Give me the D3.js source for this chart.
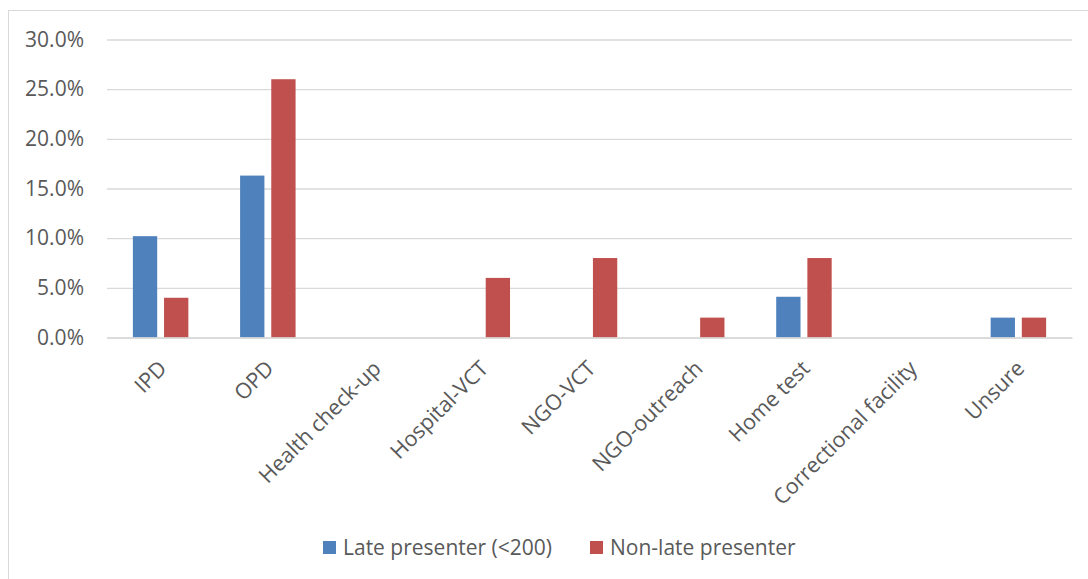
<!DOCTYPE html>
<html>
<head>
<meta charset="utf-8">
<script src="https://cdn.jsdelivr.net/npm/d3@7"></script>
<style>
  html, body { margin: 0; padding: 0; background: #fff; }
  svg { display: block; }
  text { font-family: "Open Sans", "Noto Sans", sans-serif; fill: #595959; }
</style>
</head>
<body>
<svg id="chart" width="1088" height="579"></svg>
<script>
// Where the HIV test was done, by presenter group (share of respondents)
const categories = ["IPD", "OPD", "Health check-up", "Hospital-VCT", "NGO-VCT",
                    "NGO-outreach", "Home test", "Correctional facility", "Unsure"];
const latePresenter    = [10.2, 16.3, 0, 0, 0, 0, 4.1, 0, 2.0];
const nonLatePresenter = [4.0, 26.0, 0, 6.0, 8.0, 2.0, 8.0, 0, 2.0];
const seriesNames  = ["Late presenter (<200)", "Non-late presenter"];
const seriesColors = ["#4f81bd", "#c0504d"];
const yTicks = [0, 5, 10, 15, 20, 25, 30];

const svg = d3.select("#chart");

// outer chart frame
svg.append("rect")
  .attr("x", 8.5).attr("y", 10.5)
  .attr("width", 1090).attr("height", 600)
  .attr("fill", "none").attr("stroke", "#d9d9d9").attr("stroke-width", 1);

const plot = { left: 107, right: 1072, top: 39.5, bottom: 337.5 };

const x = d3.scaleBand().domain(categories).range([plot.left, plot.right]).paddingInner(0).paddingOuter(0);
const inner = d3.scaleBand().domain([0, 1]).range([0, x.bandwidth()]).paddingInner(0.22).paddingOuter(0.83);
const y = d3.scaleLinear().domain([0, 30]).range([plot.bottom, plot.top]);

// horizontal gridlines and y-axis labels
const yAxis = d3.axisLeft(y).tickValues(yTicks)
  .tickSize(-(plot.right - plot.left)).tickPadding(23)
  .tickFormat(d => d.toFixed(1) + "%");
const gy = svg.append("g").attr("transform", `translate(${plot.left},0)`).call(yAxis);
gy.select(".domain").remove();
gy.selectAll(".tick line").attr("stroke", "#d9d9d9").attr("stroke-width", 1.3);
gy.selectAll(".tick text").attr("font-size", 21).attr("fill", "#595959")
  .attr("font-family", "'Open Sans', sans-serif");

// bars
const series = [latePresenter, nonLatePresenter];
series.forEach((vals, si) => {
  svg.append("g").selectAll("rect")
    .data(vals.map((v, i) => ({ c: categories[i], v })).filter(d => d.v > 0))
    .join("rect")
    .attr("x", d => x(d.c) + inner(si))
    .attr("width", inner.bandwidth())
    .attr("y", d => y(d.v))
    .attr("height", d => y(0) - y(d.v))
    .attr("fill", seriesColors[si]);
});

// x-axis baseline and rotated category labels
const xAxis = d3.axisBottom(x).tickSize(0).tickPadding(0);
const gx = svg.append("g").attr("transform", `translate(0,${plot.bottom})`).call(xAxis);
gx.select(".domain").attr("stroke", "#d9d9d9").attr("stroke-width", 1.3);
gx.selectAll(".tick text")
  .attr("font-size", 21.5).attr("fill", "#595959")
  .attr("font-family", "'Open Sans', sans-serif")
  .attr("text-anchor", "end")
  .attr("dy", "0.35em")
  .attr("transform", "translate(2,27) rotate(-45)");

// legend
const legend = svg.append("g").attr("transform", "translate(323,541)");
const items = legend.selectAll("g").data(seriesNames).join("g")
  .attr("transform", (d, i) => `translate(${i === 0 ? 0 : 267},0)`);
items.append("rect").attr("width", 13).attr("height", 13)
  .attr("fill", (d, i) => seriesColors[i]);
items.append("text").attr("x", 20).attr("y", 14)
  .attr("font-size", 21).text(d => d);
</script>
</body>
</html>
